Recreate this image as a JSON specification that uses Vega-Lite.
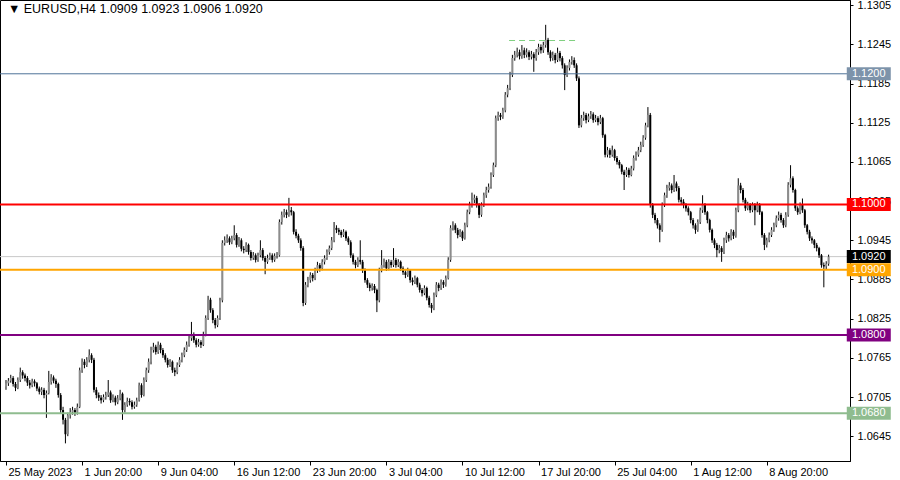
{
"$schema":"https://vega.github.io/schema/vega-lite/v6.json",
"width":850,"height":461,
"autosize":{"type":"none"},
"padding":{"left":0,"top":0,"right":50,"bottom":19},
"background":"#ffffff",
"config":{"view":{"stroke":"#000000","strokeWidth":1},"font":"Liberation Sans"},
"datasets":{
"bars":[
{"i":0,"o":1.0721,"h":1.0731,"l":1.0716,"c":1.0726},
{"i":1,"o":1.0726,"h":1.0734,"l":1.0722,"c":1.0730},
{"i":2,"o":1.0730,"h":1.0739,"l":1.0727,"c":1.0734},
{"i":3,"o":1.0734,"h":1.0737,"l":1.0721,"c":1.0725},
{"i":4,"o":1.0725,"h":1.0728,"l":1.0714,"c":1.0719},
{"i":5,"o":1.0719,"h":1.0735,"l":1.0717,"c":1.0731},
{"i":6,"o":1.0731,"h":1.0750,"l":1.0728,"c":1.0743},
{"i":7,"o":1.0743,"h":1.0746,"l":1.0733,"c":1.0738},
{"i":8,"o":1.0738,"h":1.0741,"l":1.0729,"c":1.0734},
{"i":9,"o":1.0734,"h":1.0737,"l":1.0722,"c":1.0727},
{"i":10,"o":1.0727,"h":1.0731,"l":1.0718,"c":1.0723},
{"i":11,"o":1.0723,"h":1.0733,"l":1.0720,"c":1.0729},
{"i":12,"o":1.0729,"h":1.0732,"l":1.0721,"c":1.0726},
{"i":13,"o":1.0726,"h":1.0728,"l":1.0714,"c":1.0718},
{"i":14,"o":1.0718,"h":1.0721,"l":1.0709,"c":1.0713},
{"i":15,"o":1.0713,"h":1.0720,"l":1.0708,"c":1.0716},
{"i":16,"o":1.0716,"h":1.0719,"l":1.0703,"c":1.0708},
{"i":17,"o":1.0708,"h":1.0715,"l":1.0673,"c":1.0711},
{"i":18,"o":1.0711,"h":1.0745,"l":1.0709,"c":1.0728},
{"i":19,"o":1.0728,"h":1.0740,"l":1.0724,"c":1.0735},
{"i":20,"o":1.0735,"h":1.0738,"l":1.0726,"c":1.0730},
{"i":21,"o":1.0730,"h":1.0733,"l":1.0719,"c":1.0725},
{"i":22,"o":1.0725,"h":1.0727,"l":1.0704,"c":1.0708},
{"i":23,"o":1.0708,"h":1.0711,"l":1.0680,"c":1.0685},
{"i":24,"o":1.0685,"h":1.0690,"l":1.0663,"c":1.0670},
{"i":25,"o":1.0670,"h":1.0673,"l":1.0634,"c":1.0648},
{"i":26,"o":1.0648,"h":1.0681,"l":1.0645,"c":1.0677},
{"i":27,"o":1.0677,"h":1.0688,"l":1.0672,"c":1.0682},
{"i":28,"o":1.0682,"h":1.0690,"l":1.0678,"c":1.0685},
{"i":29,"o":1.0685,"h":1.0688,"l":1.0676,"c":1.0681},
{"i":30,"o":1.0681,"h":1.0695,"l":1.0678,"c":1.0690},
{"i":31,"o":1.0690,"h":1.0750,"l":1.0688,"c":1.0746},
{"i":32,"o":1.0746,"h":1.0764,"l":1.0742,"c":1.0759},
{"i":33,"o":1.0759,"h":1.0763,"l":1.0749,"c":1.0754},
{"i":34,"o":1.0754,"h":1.0766,"l":1.0751,"c":1.0762},
{"i":35,"o":1.0762,"h":1.0778,"l":1.0758,"c":1.0769},
{"i":36,"o":1.0769,"h":1.0772,"l":1.0757,"c":1.0762},
{"i":37,"o":1.0762,"h":1.0765,"l":1.0712,"c":1.0716},
{"i":38,"o":1.0716,"h":1.0720,"l":1.0703,"c":1.0708},
{"i":39,"o":1.0708,"h":1.0712,"l":1.0699,"c":1.0704},
{"i":40,"o":1.0704,"h":1.0708,"l":1.0695,"c":1.0700},
{"i":41,"o":1.0700,"h":1.0709,"l":1.0697,"c":1.0705},
{"i":42,"o":1.0705,"h":1.0713,"l":1.0701,"c":1.0708},
{"i":43,"o":1.0708,"h":1.0731,"l":1.0705,"c":1.0712},
{"i":44,"o":1.0712,"h":1.0715,"l":1.0696,"c":1.0700},
{"i":45,"o":1.0700,"h":1.0709,"l":1.0697,"c":1.0704},
{"i":46,"o":1.0704,"h":1.0707,"l":1.0692,"c":1.0697},
{"i":47,"o":1.0697,"h":1.0708,"l":1.0694,"c":1.0703},
{"i":48,"o":1.0703,"h":1.0716,"l":1.0700,"c":1.0710},
{"i":49,"o":1.0710,"h":1.0712,"l":1.0670,"c":1.0685},
{"i":50,"o":1.0685,"h":1.0697,"l":1.0681,"c":1.0693},
{"i":51,"o":1.0693,"h":1.0704,"l":1.0690,"c":1.0699},
{"i":52,"o":1.0699,"h":1.0703,"l":1.0692,"c":1.0697},
{"i":53,"o":1.0697,"h":1.0700,"l":1.0686,"c":1.0690},
{"i":54,"o":1.0690,"h":1.0698,"l":1.0687,"c":1.0693},
{"i":55,"o":1.0693,"h":1.0704,"l":1.0690,"c":1.0700},
{"i":56,"o":1.0700,"h":1.0727,"l":1.0698,"c":1.0723},
{"i":57,"o":1.0723,"h":1.0726,"l":1.0704,"c":1.0708},
{"i":58,"o":1.0708,"h":1.0735,"l":1.0706,"c":1.0731},
{"i":59,"o":1.0731,"h":1.0750,"l":1.0728,"c":1.0746},
{"i":60,"o":1.0746,"h":1.0764,"l":1.0742,"c":1.0759},
{"i":61,"o":1.0759,"h":1.0782,"l":1.0755,"c":1.0777},
{"i":62,"o":1.0777,"h":1.0788,"l":1.0773,"c":1.0782},
{"i":63,"o":1.0782,"h":1.0785,"l":1.0770,"c":1.0774},
{"i":64,"o":1.0774,"h":1.0790,"l":1.0771,"c":1.0785},
{"i":65,"o":1.0785,"h":1.0788,"l":1.0772,"c":1.0777},
{"i":66,"o":1.0777,"h":1.0780,"l":1.0765,"c":1.0769},
{"i":67,"o":1.0769,"h":1.0772,"l":1.0758,"c":1.0762},
{"i":68,"o":1.0762,"h":1.0765,"l":1.0750,"c":1.0754},
{"i":69,"o":1.0754,"h":1.0763,"l":1.0751,"c":1.0759},
{"i":70,"o":1.0759,"h":1.0761,"l":1.0742,"c":1.0746},
{"i":71,"o":1.0746,"h":1.0750,"l":1.0737,"c":1.0743},
{"i":72,"o":1.0743,"h":1.0758,"l":1.0740,"c":1.0754},
{"i":73,"o":1.0754,"h":1.0766,"l":1.0751,"c":1.0762},
{"i":74,"o":1.0762,"h":1.0773,"l":1.0758,"c":1.0769},
{"i":75,"o":1.0769,"h":1.0781,"l":1.0766,"c":1.0777},
{"i":76,"o":1.0777,"h":1.0790,"l":1.0774,"c":1.0785},
{"i":77,"o":1.0785,"h":1.0800,"l":1.0782,"c":1.0795},
{"i":78,"o":1.0795,"h":1.0820,"l":1.0791,"c":1.0800},
{"i":79,"o":1.0800,"h":1.0804,"l":1.0788,"c":1.0792},
{"i":80,"o":1.0792,"h":1.0795,"l":1.0781,"c":1.0785},
{"i":81,"o":1.0785,"h":1.0794,"l":1.0782,"c":1.0789},
{"i":82,"o":1.0789,"h":1.0792,"l":1.0780,"c":1.0785},
{"i":83,"o":1.0785,"h":1.0805,"l":1.0783,"c":1.0800},
{"i":84,"o":1.0800,"h":1.0830,"l":1.0798,"c":1.0826},
{"i":85,"o":1.0826,"h":1.0860,"l":1.0823,"c":1.0854},
{"i":86,"o":1.0854,"h":1.0857,"l":1.0834,"c":1.0838},
{"i":87,"o":1.0838,"h":1.0841,"l":1.0818,"c":1.0823},
{"i":88,"o":1.0823,"h":1.0826,"l":1.0810,"c":1.0815},
{"i":89,"o":1.0815,"h":1.0830,"l":1.0812,"c":1.0826},
{"i":90,"o":1.0826,"h":1.0857,"l":1.0823,"c":1.0853},
{"i":91,"o":1.0853,"h":1.0945,"l":1.0850,"c":1.0941},
{"i":92,"o":1.0941,"h":1.0951,"l":1.0937,"c":1.0945},
{"i":93,"o":1.0945,"h":1.0954,"l":1.0941,"c":1.0948},
{"i":94,"o":1.0948,"h":1.0951,"l":1.0938,"c":1.0942},
{"i":95,"o":1.0942,"h":1.0952,"l":1.0939,"c":1.0948},
{"i":96,"o":1.0948,"h":1.0968,"l":1.0945,"c":1.0953},
{"i":97,"o":1.0953,"h":1.0956,"l":1.0934,"c":1.0938},
{"i":98,"o":1.0938,"h":1.0950,"l":1.0935,"c":1.0945},
{"i":99,"o":1.0945,"h":1.0948,"l":1.0928,"c":1.0932},
{"i":100,"o":1.0932,"h":1.0936,"l":1.0925,"c":1.0930},
{"i":101,"o":1.0930,"h":1.0942,"l":1.0927,"c":1.0938},
{"i":102,"o":1.0938,"h":1.0940,"l":1.0923,"c":1.0927},
{"i":103,"o":1.0927,"h":1.0930,"l":1.0914,"c":1.0918},
{"i":104,"o":1.0918,"h":1.0927,"l":1.0915,"c":1.0922},
{"i":105,"o":1.0922,"h":1.0925,"l":1.0911,"c":1.0915},
{"i":106,"o":1.0915,"h":1.0926,"l":1.0912,"c":1.0922},
{"i":107,"o":1.0922,"h":1.0945,"l":1.0919,"c":1.0930},
{"i":108,"o":1.0930,"h":1.0933,"l":1.0914,"c":1.0918},
{"i":109,"o":1.0918,"h":1.0921,"l":1.0893,"c":1.0912},
{"i":110,"o":1.0912,"h":1.0923,"l":1.0909,"c":1.0918},
{"i":111,"o":1.0918,"h":1.0926,"l":1.0915,"c":1.0922},
{"i":112,"o":1.0922,"h":1.0925,"l":1.0911,"c":1.0915},
{"i":113,"o":1.0915,"h":1.0925,"l":1.0912,"c":1.0921},
{"i":114,"o":1.0921,"h":1.0927,"l":1.0917,"c":1.0922},
{"i":115,"o":1.0922,"h":1.0977,"l":1.0920,"c":1.0973},
{"i":116,"o":1.0973,"h":1.0989,"l":1.0969,"c":1.0984},
{"i":117,"o":1.0984,"h":1.0993,"l":1.0980,"c":1.0988},
{"i":118,"o":1.0988,"h":1.0992,"l":1.0979,"c":1.0984},
{"i":119,"o":1.0984,"h":1.1010,"l":1.0981,"c":1.0991},
{"i":120,"o":1.0991,"h":1.0996,"l":1.0983,"c":1.0988},
{"i":121,"o":1.0988,"h":1.0990,"l":1.0954,"c":1.0958},
{"i":122,"o":1.0958,"h":1.0962,"l":1.0948,"c":1.0952},
{"i":123,"o":1.0952,"h":1.0955,"l":1.0941,"c":1.0945},
{"i":124,"o":1.0945,"h":1.0948,"l":1.0929,"c":1.0933},
{"i":125,"o":1.0933,"h":1.0936,"l":1.0844,"c":1.0849},
{"i":126,"o":1.0849,"h":1.0881,"l":1.0846,"c":1.0877},
{"i":127,"o":1.0877,"h":1.0889,"l":1.0873,"c":1.0884},
{"i":128,"o":1.0884,"h":1.0896,"l":1.0880,"c":1.0892},
{"i":129,"o":1.0892,"h":1.0895,"l":1.0882,"c":1.0887},
{"i":130,"o":1.0887,"h":1.0903,"l":1.0884,"c":1.0899},
{"i":131,"o":1.0899,"h":1.0912,"l":1.0895,"c":1.0907},
{"i":132,"o":1.0907,"h":1.0910,"l":1.0897,"c":1.0902},
{"i":133,"o":1.0902,"h":1.0916,"l":1.0899,"c":1.0912},
{"i":134,"o":1.0912,"h":1.0922,"l":1.0908,"c":1.0918},
{"i":135,"o":1.0918,"h":1.0931,"l":1.0915,"c":1.0927},
{"i":136,"o":1.0927,"h":1.0937,"l":1.0923,"c":1.0933},
{"i":137,"o":1.0933,"h":1.0950,"l":1.0930,"c":1.0945},
{"i":138,"o":1.0945,"h":1.0973,"l":1.0942,"c":1.0964},
{"i":139,"o":1.0964,"h":1.0968,"l":1.0956,"c":1.0961},
{"i":140,"o":1.0961,"h":1.0964,"l":1.0953,"c":1.0958},
{"i":141,"o":1.0958,"h":1.0961,"l":1.0949,"c":1.0953},
{"i":142,"o":1.0953,"h":1.0962,"l":1.0950,"c":1.0958},
{"i":143,"o":1.0958,"h":1.0960,"l":1.0944,"c":1.0948},
{"i":144,"o":1.0948,"h":1.0951,"l":1.0938,"c":1.0942},
{"i":145,"o":1.0942,"h":1.0945,"l":1.0918,"c":1.0922},
{"i":146,"o":1.0922,"h":1.0925,"l":1.0908,"c":1.0912},
{"i":147,"o":1.0912,"h":1.0915,"l":1.0902,"c":1.0907},
{"i":148,"o":1.0907,"h":1.0919,"l":1.0904,"c":1.0915},
{"i":149,"o":1.0915,"h":1.0945,"l":1.0908,"c":1.0912},
{"i":150,"o":1.0912,"h":1.0915,"l":1.0895,"c":1.0899},
{"i":151,"o":1.0899,"h":1.0902,"l":1.0880,"c":1.0884},
{"i":152,"o":1.0884,"h":1.0887,"l":1.0872,"c":1.0877},
{"i":153,"o":1.0877,"h":1.0880,"l":1.0867,"c":1.0872},
{"i":154,"o":1.0872,"h":1.0879,"l":1.0868,"c":1.0875},
{"i":155,"o":1.0875,"h":1.0878,"l":1.0864,"c":1.0869},
{"i":156,"o":1.0869,"h":1.0871,"l":1.0835,"c":1.0853},
{"i":157,"o":1.0853,"h":1.0903,"l":1.0850,"c":1.0899},
{"i":158,"o":1.0899,"h":1.0930,"l":1.0896,"c":1.0907},
{"i":159,"o":1.0907,"h":1.0917,"l":1.0903,"c":1.0912},
{"i":160,"o":1.0912,"h":1.0915,"l":1.0898,"c":1.0902},
{"i":161,"o":1.0902,"h":1.0916,"l":1.0899,"c":1.0912},
{"i":162,"o":1.0912,"h":1.0915,"l":1.0903,"c":1.0907},
{"i":163,"o":1.0907,"h":1.0933,"l":1.0904,"c":1.0915},
{"i":164,"o":1.0915,"h":1.0918,"l":1.0903,"c":1.0907},
{"i":165,"o":1.0907,"h":1.0916,"l":1.0904,"c":1.0912},
{"i":166,"o":1.0912,"h":1.0914,"l":1.0898,"c":1.0902},
{"i":167,"o":1.0902,"h":1.0905,"l":1.0892,"c":1.0896},
{"i":168,"o":1.0896,"h":1.0899,"l":1.0887,"c":1.0892},
{"i":169,"o":1.0892,"h":1.0903,"l":1.0889,"c":1.0899},
{"i":170,"o":1.0899,"h":1.0901,"l":1.0880,"c":1.0884},
{"i":171,"o":1.0884,"h":1.0888,"l":1.0876,"c":1.0881},
{"i":172,"o":1.0881,"h":1.0891,"l":1.0878,"c":1.0887},
{"i":173,"o":1.0887,"h":1.0889,"l":1.0873,"c":1.0877},
{"i":174,"o":1.0877,"h":1.0880,"l":1.0865,"c":1.0869},
{"i":175,"o":1.0869,"h":1.0872,"l":1.0859,"c":1.0864},
{"i":176,"o":1.0864,"h":1.0876,"l":1.0861,"c":1.0872},
{"i":177,"o":1.0872,"h":1.0874,"l":1.0853,"c":1.0857},
{"i":178,"o":1.0857,"h":1.0860,"l":1.0842,"c":1.0846},
{"i":179,"o":1.0846,"h":1.0849,"l":1.0834,"c":1.0841},
{"i":180,"o":1.0841,"h":1.0865,"l":1.0838,"c":1.0861},
{"i":181,"o":1.0861,"h":1.0881,"l":1.0858,"c":1.0877},
{"i":182,"o":1.0877,"h":1.0880,"l":1.0867,"c":1.0872},
{"i":183,"o":1.0872,"h":1.0885,"l":1.0869,"c":1.0881},
{"i":184,"o":1.0881,"h":1.0884,"l":1.0872,"c":1.0877},
{"i":185,"o":1.0877,"h":1.0891,"l":1.0874,"c":1.0887},
{"i":186,"o":1.0887,"h":1.0919,"l":1.0885,"c":1.0915},
{"i":187,"o":1.0915,"h":1.0968,"l":1.0912,"c":1.0964},
{"i":188,"o":1.0964,"h":1.0974,"l":1.0960,"c":1.0968},
{"i":189,"o":1.0968,"h":1.0971,"l":1.0956,"c":1.0961},
{"i":190,"o":1.0961,"h":1.0964,"l":1.0948,"c":1.0953},
{"i":191,"o":1.0953,"h":1.0962,"l":1.0950,"c":1.0958},
{"i":192,"o":1.0958,"h":1.0960,"l":1.0944,"c":1.0948},
{"i":193,"o":1.0948,"h":1.0972,"l":1.0946,"c":1.0968},
{"i":194,"o":1.0968,"h":1.0992,"l":1.0965,"c":1.0988},
{"i":195,"o":1.0988,"h":1.1004,"l":1.0985,"c":1.0999},
{"i":196,"o":1.0999,"h":1.1018,"l":1.0995,"c":1.1007},
{"i":197,"o":1.1007,"h":1.1015,"l":1.1002,"c":1.1010},
{"i":198,"o":1.1010,"h":1.1013,"l":1.0995,"c":1.0999},
{"i":199,"o":1.0999,"h":1.1002,"l":1.0979,"c":1.0984},
{"i":200,"o":1.0984,"h":1.1003,"l":1.0981,"c":1.0999},
{"i":201,"o":1.0999,"h":1.1018,"l":1.0996,"c":1.1014},
{"i":202,"o":1.1014,"h":1.1027,"l":1.1010,"c":1.1022},
{"i":203,"o":1.1022,"h":1.1032,"l":1.1018,"c":1.1027},
{"i":204,"o":1.1027,"h":1.1049,"l":1.1024,"c":1.1045},
{"i":205,"o":1.1045,"h":1.1064,"l":1.1042,"c":1.1060},
{"i":206,"o":1.1060,"h":1.1136,"l":1.1057,"c":1.1132},
{"i":207,"o":1.1132,"h":1.1142,"l":1.1128,"c":1.1137},
{"i":208,"o":1.1137,"h":1.1140,"l":1.1129,"c":1.1134},
{"i":209,"o":1.1134,"h":1.1148,"l":1.1131,"c":1.1144},
{"i":210,"o":1.1144,"h":1.1172,"l":1.1141,"c":1.1168},
{"i":211,"o":1.1168,"h":1.1183,"l":1.1164,"c":1.1178},
{"i":212,"o":1.1178,"h":1.1203,"l":1.1175,"c":1.1198},
{"i":213,"o":1.1198,"h":1.1229,"l":1.1195,"c":1.1224},
{"i":214,"o":1.1224,"h":1.1235,"l":1.1220,"c":1.1229},
{"i":215,"o":1.1229,"h":1.1240,"l":1.1225,"c":1.1233},
{"i":216,"o":1.1233,"h":1.1237,"l":1.1222,"c":1.1227},
{"i":217,"o":1.1227,"h":1.1244,"l":1.1223,"c":1.1236},
{"i":218,"o":1.1236,"h":1.1240,"l":1.1224,"c":1.1229},
{"i":219,"o":1.1229,"h":1.1239,"l":1.1225,"c":1.1233},
{"i":220,"o":1.1233,"h":1.1236,"l":1.1221,"c":1.1226},
{"i":221,"o":1.1226,"h":1.1235,"l":1.1222,"c":1.1230},
{"i":222,"o":1.1230,"h":1.1233,"l":1.1203,"c":1.1224},
{"i":223,"o":1.1224,"h":1.1238,"l":1.1220,"c":1.1233},
{"i":224,"o":1.1233,"h":1.1246,"l":1.1229,"c":1.1241},
{"i":225,"o":1.1241,"h":1.1245,"l":1.1231,"c":1.1236},
{"i":226,"o":1.1236,"h":1.1249,"l":1.1232,"c":1.1244},
{"i":227,"o":1.1244,"h":1.1275,"l":1.1240,"c":1.1252},
{"i":228,"o":1.1252,"h":1.1255,"l":1.1229,"c":1.1233},
{"i":229,"o":1.1233,"h":1.1236,"l":1.1219,"c":1.1224},
{"i":230,"o":1.1224,"h":1.1234,"l":1.1220,"c":1.1229},
{"i":231,"o":1.1229,"h":1.1232,"l":1.1216,"c":1.1221},
{"i":232,"o":1.1221,"h":1.1240,"l":1.1218,"c":1.1232},
{"i":233,"o":1.1232,"h":1.1235,"l":1.1219,"c":1.1224},
{"i":234,"o":1.1224,"h":1.1227,"l":1.1208,"c":1.1213},
{"i":235,"o":1.1213,"h":1.1216,"l":1.1175,"c":1.1198},
{"i":236,"o":1.1198,"h":1.1213,"l":1.1195,"c":1.1209},
{"i":237,"o":1.1209,"h":1.1222,"l":1.1205,"c":1.1218},
{"i":238,"o":1.1218,"h":1.1227,"l":1.1214,"c":1.1221},
{"i":239,"o":1.1221,"h":1.1225,"l":1.1209,"c":1.1213},
{"i":240,"o":1.1213,"h":1.1216,"l":1.1189,"c":1.1193},
{"i":241,"o":1.1193,"h":1.1196,"l":1.1117,"c":1.1121},
{"i":242,"o":1.1121,"h":1.1137,"l":1.1118,"c":1.1132},
{"i":243,"o":1.1132,"h":1.1142,"l":1.1128,"c":1.1137},
{"i":244,"o":1.1137,"h":1.1140,"l":1.1124,"c":1.1129},
{"i":245,"o":1.1129,"h":1.1139,"l":1.1126,"c":1.1135},
{"i":246,"o":1.1135,"h":1.1143,"l":1.1131,"c":1.1138},
{"i":247,"o":1.1138,"h":1.1141,"l":1.1125,"c":1.1129},
{"i":248,"o":1.1129,"h":1.1137,"l":1.1126,"c":1.1132},
{"i":249,"o":1.1132,"h":1.1135,"l":1.1121,"c":1.1126},
{"i":250,"o":1.1126,"h":1.1137,"l":1.1123,"c":1.1132},
{"i":251,"o":1.1132,"h":1.1134,"l":1.1102,"c":1.1106},
{"i":252,"o":1.1106,"h":1.1108,"l":1.1072,"c":1.1076},
{"i":253,"o":1.1076,"h":1.1088,"l":1.1072,"c":1.1083},
{"i":254,"o":1.1083,"h":1.1086,"l":1.1071,"c":1.1076},
{"i":255,"o":1.1076,"h":1.1090,"l":1.1073,"c":1.1083},
{"i":256,"o":1.1083,"h":1.1085,"l":1.1067,"c":1.1071},
{"i":257,"o":1.1071,"h":1.1074,"l":1.1061,"c":1.1065},
{"i":258,"o":1.1065,"h":1.1068,"l":1.1055,"c":1.1060},
{"i":259,"o":1.1060,"h":1.1062,"l":1.1046,"c":1.1050},
{"i":260,"o":1.1050,"h":1.1053,"l":1.1022,"c":1.1045},
{"i":261,"o":1.1045,"h":1.1057,"l":1.1042,"c":1.1053},
{"i":262,"o":1.1053,"h":1.1056,"l":1.1041,"c":1.1045},
{"i":263,"o":1.1045,"h":1.1059,"l":1.1043,"c":1.1055},
{"i":264,"o":1.1055,"h":1.1075,"l":1.1052,"c":1.1071},
{"i":265,"o":1.1071,"h":1.1081,"l":1.1067,"c":1.1076},
{"i":266,"o":1.1076,"h":1.1088,"l":1.1073,"c":1.1083},
{"i":267,"o":1.1083,"h":1.1096,"l":1.1080,"c":1.1091},
{"i":268,"o":1.1091,"h":1.1106,"l":1.1088,"c":1.1102},
{"i":269,"o":1.1102,"h":1.1125,"l":1.1099,"c":1.1121},
{"i":270,"o":1.1121,"h":1.1149,"l":1.1118,"c":1.1137},
{"i":271,"o":1.1137,"h":1.1140,"l":1.0995,"c":1.0999},
{"i":272,"o":1.0999,"h":1.1002,"l":1.0979,"c":1.0984},
{"i":273,"o":1.0984,"h":1.0987,"l":1.0971,"c":1.0976},
{"i":274,"o":1.0976,"h":1.0979,"l":1.0963,"c":1.0968},
{"i":275,"o":1.0968,"h":1.0971,"l":1.0942,"c":1.0961},
{"i":276,"o":1.0961,"h":1.1003,"l":1.0958,"c":1.0999},
{"i":277,"o":1.0999,"h":1.1018,"l":1.0996,"c":1.1014},
{"i":278,"o":1.1014,"h":1.1030,"l":1.1010,"c":1.1025},
{"i":279,"o":1.1025,"h":1.1034,"l":1.1021,"c":1.1029},
{"i":280,"o":1.1029,"h":1.1032,"l":1.1017,"c":1.1022},
{"i":281,"o":1.1022,"h":1.1045,"l":1.1019,"c":1.1032},
{"i":282,"o":1.1032,"h":1.1035,"l":1.1020,"c":1.1025},
{"i":283,"o":1.1025,"h":1.1028,"l":1.1003,"c":1.1007},
{"i":284,"o":1.1007,"h":1.1011,"l":1.0999,"c":1.1004},
{"i":285,"o":1.1004,"h":1.1008,"l":1.0994,"c":1.0999},
{"i":286,"o":1.0999,"h":1.1002,"l":1.0989,"c":1.0994},
{"i":287,"o":1.0994,"h":1.0997,"l":1.0983,"c":1.0988},
{"i":288,"o":1.0988,"h":1.0990,"l":1.0971,"c":1.0976},
{"i":289,"o":1.0976,"h":1.0979,"l":1.0963,"c":1.0968},
{"i":290,"o":1.0968,"h":1.0971,"l":1.0955,"c":1.0961},
{"i":291,"o":1.0961,"h":1.0977,"l":1.0958,"c":1.0973},
{"i":292,"o":1.0973,"h":1.0995,"l":1.0970,"c":1.0991},
{"i":293,"o":1.0991,"h":1.1014,"l":1.0987,"c":1.0999},
{"i":294,"o":1.0999,"h":1.1002,"l":1.0984,"c":1.0988},
{"i":295,"o":1.0988,"h":1.0990,"l":1.0971,"c":1.0976},
{"i":296,"o":1.0976,"h":1.0978,"l":1.0957,"c":1.0961},
{"i":297,"o":1.0961,"h":1.0963,"l":1.0941,"c":1.0945},
{"i":298,"o":1.0945,"h":1.0948,"l":1.0933,"c":1.0938},
{"i":299,"o":1.0938,"h":1.0941,"l":1.0919,"c":1.0930},
{"i":300,"o":1.0930,"h":1.0938,"l":1.0925,"c":1.0933},
{"i":301,"o":1.0933,"h":1.0936,"l":1.0912,"c":1.0927},
{"i":302,"o":1.0927,"h":1.0949,"l":1.0924,"c":1.0945},
{"i":303,"o":1.0945,"h":1.0958,"l":1.0941,"c":1.0953},
{"i":304,"o":1.0953,"h":1.0956,"l":1.0943,"c":1.0948},
{"i":305,"o":1.0948,"h":1.0962,"l":1.0945,"c":1.0958},
{"i":306,"o":1.0958,"h":1.0961,"l":1.0947,"c":1.0952},
{"i":307,"o":1.0952,"h":1.0995,"l":1.0949,"c":1.0991},
{"i":308,"o":1.0991,"h":1.1040,"l":1.0988,"c":1.1029},
{"i":309,"o":1.1029,"h":1.1033,"l":1.1017,"c":1.1022},
{"i":310,"o":1.1022,"h":1.1025,"l":1.1003,"c":1.1007},
{"i":311,"o":1.1007,"h":1.1010,"l":1.0990,"c":1.0994},
{"i":312,"o":1.0994,"h":1.1004,"l":1.0991,"c":1.0999},
{"i":313,"o":1.0999,"h":1.1002,"l":1.0987,"c":1.0991},
{"i":314,"o":1.0991,"h":1.1003,"l":1.0988,"c":1.0999},
{"i":315,"o":1.0999,"h":1.1002,"l":1.0968,"c":1.0991},
{"i":316,"o":1.0991,"h":1.1004,"l":1.0988,"c":1.0999},
{"i":317,"o":1.0999,"h":1.1002,"l":1.0984,"c":1.0988},
{"i":318,"o":1.0988,"h":1.0990,"l":1.0949,"c":1.0953},
{"i":319,"o":1.0953,"h":1.0956,"l":1.0930,"c":1.0938},
{"i":320,"o":1.0938,"h":1.0949,"l":1.0934,"c":1.0945},
{"i":321,"o":1.0945,"h":1.0957,"l":1.0942,"c":1.0953},
{"i":322,"o":1.0953,"h":1.0965,"l":1.0950,"c":1.0961},
{"i":323,"o":1.0961,"h":1.0972,"l":1.0958,"c":1.0968},
{"i":324,"o":1.0968,"h":1.0983,"l":1.0965,"c":1.0979},
{"i":325,"o":1.0979,"h":1.0989,"l":1.0975,"c":1.0984},
{"i":326,"o":1.0984,"h":1.0987,"l":1.0972,"c":1.0976},
{"i":327,"o":1.0976,"h":1.0979,"l":1.0964,"c":1.0968},
{"i":328,"o":1.0968,"h":1.0988,"l":1.0965,"c":1.0984},
{"i":329,"o":1.0984,"h":1.1034,"l":1.0981,"c":1.1030},
{"i":330,"o":1.1030,"h":1.1060,"l":1.1026,"c":1.1040},
{"i":331,"o":1.1040,"h":1.1043,"l":1.1018,"c":1.1022},
{"i":332,"o":1.1022,"h":1.1024,"l":1.0990,"c":1.0994},
{"i":333,"o":1.0994,"h":1.0997,"l":1.0984,"c":1.0988},
{"i":334,"o":1.0988,"h":1.1003,"l":1.0985,"c":1.0999},
{"i":335,"o":1.0999,"h":1.1009,"l":1.0987,"c":1.0991},
{"i":336,"o":1.0991,"h":1.0993,"l":1.0964,"c":1.0968},
{"i":337,"o":1.0968,"h":1.0970,"l":1.0954,"c":1.0958},
{"i":338,"o":1.0958,"h":1.0961,"l":1.0944,"c":1.0948},
{"i":339,"o":1.0948,"h":1.0951,"l":1.0940,"c":1.0945},
{"i":340,"o":1.0945,"h":1.0947,"l":1.0933,"c":1.0938},
{"i":341,"o":1.0938,"h":1.0941,"l":1.0928,"c":1.0933},
{"i":342,"o":1.0933,"h":1.0935,"l":1.0918,"c":1.0922},
{"i":343,"o":1.0922,"h":1.0924,"l":1.0903,"c":1.0907},
{"i":344,"o":1.0907,"h":1.0911,"l":1.0873,"c":1.0905},
{"i":345,"o":1.0905,"h":1.0913,"l":1.0901,"c":1.0909},
{"i":346,"o":1.0909,"h":1.0923,"l":1.0906,"c":1.0920}
],
"levels":[
{"p":1.12,"name":"1.1200"},
{"p":1.10,"name":"1.1000"},
{"p":1.092,"name":"1.0920"},
{"p":1.09,"name":"1.0900"},
{"p":1.08,"name":"1.0800"},
{"p":1.068,"name":"1.0680"}
],
"swing":[{"from":211.6,"to":239.8,"p":1.1251}],
"header":[{"text":"▼ EURUSD,H4  1.0909 1.0923 1.0906 1.0920","i":0.8,"p":1.1299}]
},
"layer":[
{
"data":{"name":"levels"},
"transform":[{"filter":"datum.name == '1.0920'"}],
"mark":{"type":"rule","strokeWidth":1},
"encoding":{
"y":{"field":"p","type":"quantitative","scale":{"domain":[1.0607,1.1313],"nice":false,"zero":false},
"axis":{"orient":"right","values":[1.0645,1.0705,1.0765,1.0825,1.0885,1.0945,1.1005,1.1065,1.1125,1.1185,1.1245,1.1305],"format":".4f","title":null,"grid":false,"domainColor":"#000000","tickColor":"#000000","tickSize":3,"labelPadding":4,"labelFont":"Liberation Sans","labelFontSize":11,"labelColor":"#000000","labelAlign":"left","labelBaseline":"middle"}},
"stroke":{"field":"name","type":"nominal","legend":null,"scale":{"domain":["1.1200","1.1000","1.0920","1.0900","1.0800","1.0680"],"range":["#4f7399","#ff0000","#c8c8c8","#ffa500","#800080","#8fbc8f"]}}
}
},
{
"data":{"name":"bars"},
"mark":{"type":"rule","strokeWidth":1,"color":"#000000"},
"encoding":{
"x":{"field":"i","type":"quantitative","scale":{"domain":[-0.42,352.9],"nice":false,"zero":false},
"axis":{"orient":"bottom","values":[0,32,64,96,128,160,192,224,256,288,320],"labelExpr":"['25 May 2023','1 Jun 20:00','9 Jun 04:00','16 Jun 12:00','23 Jun 20:00','3 Jul 04:00','10 Jul 12:00','17 Jul 20:00','25 Jul 04:00','1 Aug 12:00','8 Aug 20:00'][round(datum.value/32)]","title":null,"grid":false,"domainColor":"#000000","tickColor":"#000000","tickSize":4,"labelPadding":1,"labelFont":"Liberation Sans","labelFontSize":11,"labelColor":"#000000","labelAlign":"left","labelBaseline":"top","labelOffset":2,"labelFlush":false,"labelOverlap":false}},
"y":{"field":"l","type":"quantitative"},
"y2":{"field":"h"}
}
},
{
"data":{"name":"bars"},
"mark":{"type":"bar","size":2},
"encoding":{
"x":{"field":"i","type":"quantitative"},
"y":{"field":"o","type":"quantitative"},
"y2":{"field":"c"},
"color":{"condition":{"test":"datum.c >= datum.o","value":"#8c8c8c"},"value":"#000000"}
}
},
{
"data":{"name":"levels"},
"transform":[{"filter":"datum.name != '1.0920'"}],
"mark":{"type":"rule"},
"encoding":{
"y":{"field":"p","type":"quantitative"},
"stroke":{"field":"name","type":"nominal","legend":null},
"strokeWidth":{"condition":{"test":"datum.name == '1.1200'","value":1},"value":2}
}
},
{
"data":{"name":"swing"},
"mark":{"type":"rule","strokeDash":[6,4],"color":"#80d080","strokeWidth":1},
"encoding":{
"x":{"field":"from","type":"quantitative"},
"x2":{"field":"to"},
"y":{"field":"p","type":"quantitative"}
}
},
{
"data":{"name":"levels"},
"mark":{"type":"tick","orient":"horizontal","size":44,"thickness":13},
"encoding":{
"x":{"datum":362.9,"type":"quantitative"},
"y":{"field":"p","type":"quantitative"},
"fill":{"field":"name","type":"nominal","legend":null,"scale":{"domain":["1.1200","1.1000","1.0920","1.0900","1.0800","1.0680"],"range":["#7d93aa","#ff0000","#000000","#ffa500","#800080","#8fbc8f"]}},
"opacity":{"value":1}
}
},
{
"data":{"name":"levels"},
"mark":{"type":"text","align":"center","baseline":"middle","color":"#ffffff","font":"Liberation Sans","fontSize":11},
"encoding":{
"x":{"datum":362.9,"type":"quantitative"},
"y":{"field":"p","type":"quantitative"},
"text":{"field":"name"}
}
},
{
"data":{"name":"header"},
"mark":{"type":"text","align":"left","baseline":"middle","color":"#000000","font":"Liberation Sans","fontSize":12.5},
"encoding":{
"x":{"field":"i","type":"quantitative"},
"y":{"field":"p","type":"quantitative"},
"text":{"field":"text"}
}
}
]
}
